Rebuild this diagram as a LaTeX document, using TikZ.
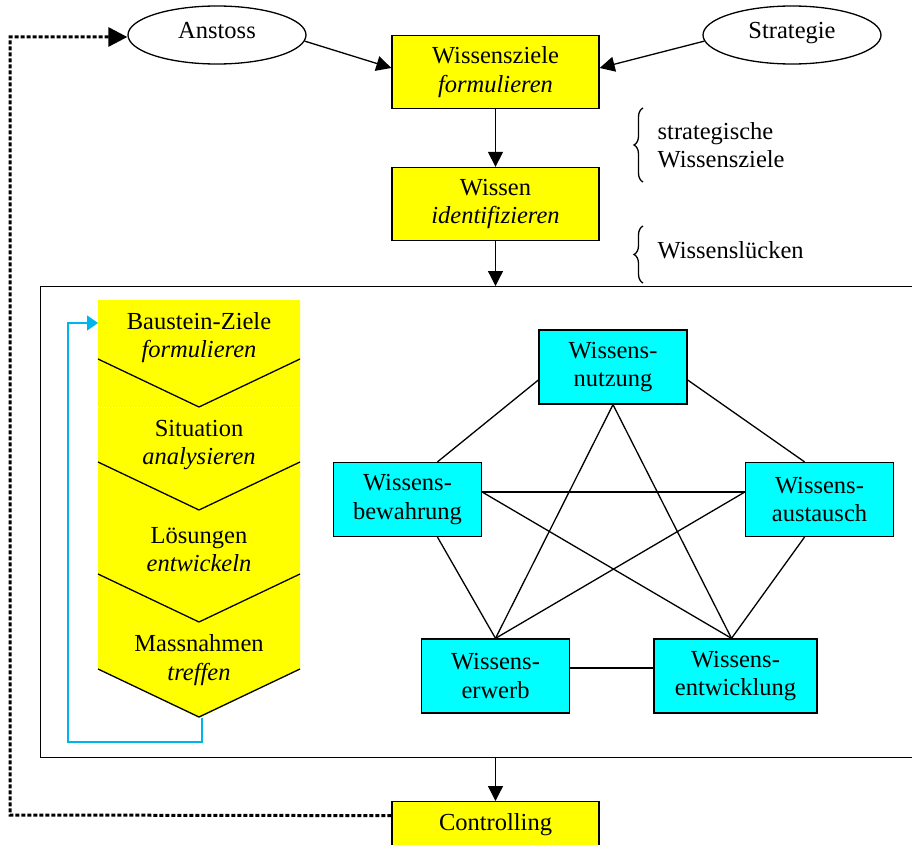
\documentclass[tikz,border=0pt]{standalone}
\usepackage{fontspec}
\setmainfont{Liberation Serif}
\usetikzlibrary{arrows.meta,positioning,calc,shapes.geometric,decorations.pathreplacing}
\definecolor{stepyellow}{RGB}{255,255,0}
\definecolor{phasecyan}{RGB}{0,255,255}
\definecolor{loopblue}{RGB}{0,180,240}
\tikzset{>={Triangle[length=15pt,width=15pt]}}

\begin{document}
\begin{tikzpicture}[x=1pt,y=-1pt,line width=1.3pt,
  every node/.style={font=\fontsize{24.5}{28.5}\selectfont,align=center},
  topbox/.style={draw,fill=stepyellow,minimum width=207pt,minimum height=73pt,inner sep=0pt},
  phase/.style={draw,fill=phasecyan,minimum width=148pt,minimum height=74pt,inner sep=0pt},
  source/.style={draw,ellipse,minimum width=178pt,minimum height=58pt,inner sep=0pt},
  bracetext/.style={anchor=west,align=left,inner sep=0pt}]
  \clip (0,0) rectangle (912,845);

  % oberer Ablauf
  \node[source] (anstoss) at (217,35) {\raisebox{9pt}{Anstoss}};
  \node[source] (strategie) at (792,35) {\raisebox{9pt}{Strategie}};
  \node[topbox] (ziele) at (495.5,72) {Wissensziele\\\textit{formulieren}};
  \node[topbox] (ident) at (495.5,204) {Wissen\\\textit{identifizieren}};
  \node[draw,minimum width=880pt,minimum height=471pt,anchor=north west,inner sep=0pt] (rahmen) at (40,286) {};
  \node[topbox,anchor=north,minimum height=46pt] (ctrl) at (495.5,801) {Controlling};

  \draw[->] (anstoss.-4) -- ($(ziele.west)+(0,-4)$);
  \draw[->] (strategie.184) -- ($(ziele.east)+(0,-4)$);
  \draw[->] (ziele) -- (ident);
  \draw[->] (ident) -- (ident.south |- rahmen.north);
  \draw[->] (ctrl.north |- rahmen.south) -- (ctrl);

  % Klammern
  \draw[decorate,decoration={brace,amplitude=9pt}] (643,182) -- (643,108);
  \node[bracetext] (strat) at (657,145) {strategische\\Wissensziele};
  \draw[decorate,decoration={brace,amplitude=9pt}] (643,283) -- (643,226);
  \node[bracetext] (luecken) at (657,250) {Wissenslücken};

  % Rueckkopplung Controlling -> Anstoss
  \draw[line width=3pt,dash pattern=on 4pt off 2pt,-{Triangle[length=19pt,width=19pt]}]
    ($(ctrl.west)+(0,-9)$) -- (10,815) -- (10,37) -- ($(anstoss.west)+(0,2)$);

  % Bausteine (Pfeilspalte)
  \fill[stepyellow] (98,300) -- (300,300) -- (300,669) -- (199,718) -- (98,669) -- cycle;
  \draw[white,dotted,line width=0.8pt] (98,407) -- (300,407);
  \foreach \t in {359,462,574,669}
    \draw (98,\t) -- (199,\t+48) -- (300,\t);
  \foreach \a/\b/\y [count=\i] in {Baustein-Ziele/formulieren/337.5,
    Situation/analysieren/445, Lösungen/entwickeln/549.5, Massnahmen/treffen/660}
    \node (stage\i) at (199,\y) {\a\\\textit{\b}};

  \coordinate (tip) at (202,718);
  \coordinate (entry) at (98,323);
  \draw[loopblue,line width=1.5pt,-{Triangle[length=11pt,width=15pt]}]
    (tip) -- (202,742) -- (68,742) -- (68,323) -- (entry);

  % Wissensbausteine
  \node[phase] (nutz) at (613,367) {Wissens-\\nutzung};
  \node[phase] (bew) at (407.5,499.5) {Wissens-\\bewahrung};
  \node[phase] (aus) at (819.5,499.5) {Wissens-\\austausch};
  \node[phase] (erw) at (495.5,676) {Wissens-\\erwerb};
  \node[phase,minimum width=163pt] (entw) at (735.5,676) {Wissens-\\entwicklung};

  \coordinate (bewT) at ($(bew.north)+(30,0)$);
  \coordinate (bewB) at ($(bew.south)+(30,0)$);
  \coordinate (bewR) at ($(bew.east)+(0,-7.5)$);
  \coordinate (ausT) at ($(aus.north)+(-15,0)$);
  \coordinate (ausB) at ($(aus.south)+(-15,0)$);
  \coordinate (ausL) at ($(aus.west)+(0,-7.5)$);
  \coordinate (entwT) at ($(entw.north)+(-4,0)$);

  \draw ($(nutz.west)+(0,13)$) -- (bewT);
  \draw ($(nutz.east)+(0,13)$) -- (ausT);
  \draw (nutz.south) -- (erw.north);
  \draw (nutz.south) -- (entwT);
  \draw (bewR) -- (ausL);
  \draw (bewR) -- (entwT);
  \draw (bewB) -- (erw.north);
  \draw (ausL) -- (erw.north);
  \draw (ausB) -- (entwT);
  \draw ($(erw.east)+(0,-8)$) -- ($(entw.west)+(0,-8)$);
\end{tikzpicture}
\end{document}
